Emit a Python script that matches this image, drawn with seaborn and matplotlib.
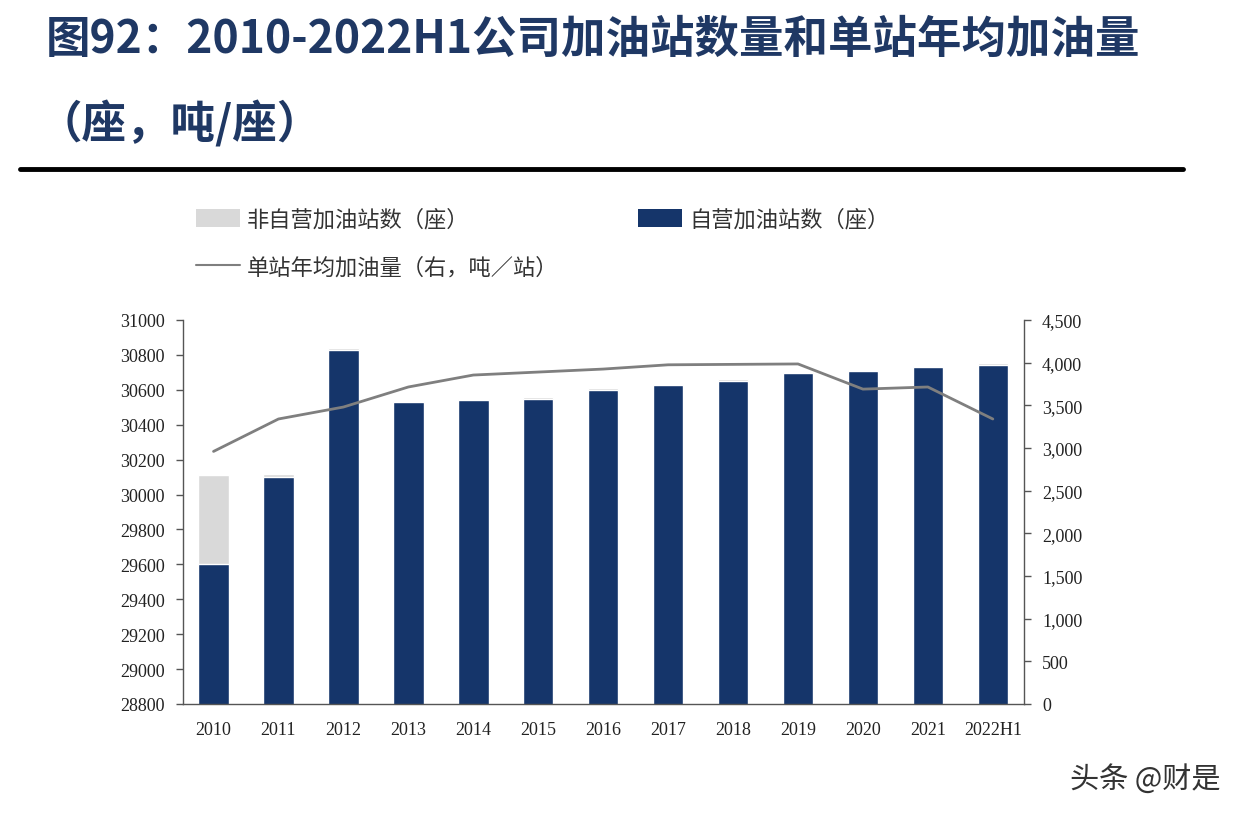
import matplotlib
matplotlib.use("Agg")
import matplotlib.pyplot as plt
import seaborn as sns
import numpy as np
import pandas as pd
from matplotlib.patches import Patch
from matplotlib.lines import Line2D
from matplotlib.ticker import FuncFormatter

years = ["2010", "2011", "2012", "2013", "2014", "2015", "2016", "2017", "2018", "2019", "2020", "2021", "2022H1"]
self_operated = [29600, 30100, 30828, 30528, 30540, 30550, 30600, 30628, 30652, 30694, 30710, 30733, 30745]
non_self = [512, 15, 12, 10, 10, 10, 8, 8, 8, 8, 6, 6, 6]
avg_volume = [2960, 3340, 3480, 3715, 3855, 3890, 3925, 3975, 3980, 3985, 3690, 3715, 3340]

left_ticks = [28800, 29000, 29200, 29400, 29600, 29800, 30000, 30200, 30400, 30600, 30800, 31000]
right_ticks = [0, 500, 1000, 1500, 2000, 2500, 3000, 3500, 4000, 4500]

title_line1 = "图92：2010-2022H1公司加油站数量和单站年均加油量"
title_line2 = "（座，吨/座）"
legend_labels = ["非自营加油站数（座）", "自营加油站数（座）", "单站年均加油量（右，吨／站）"]
watermark = "头条 @财是"

sns.set_theme(style="white")
plt.rcParams['font.family'] = ['Liberation Serif', 'Noto Sans CJK SC', 'DejaVu Sans']

navy = "#15356a"
gray_bar = "#d9d9d9"
line_gray = "#7f7f7f"
axis_col = "#555555"

df = pd.DataFrame({"year": years,
                   "self": self_operated,
                   "total": [a + b for a, b in zip(self_operated, non_self)],
                   "avg": avg_volume})

fig = plt.figure(figsize=(12.44, 8.2), dpi=100)
ax = fig.add_axes([183/1244, 1-705/820, (1024-183)/1244, (705-321)/820])

sns.barplot(data=df, x="year", y="total", color=gray_bar, width=0.47, ax=ax, saturation=1)
sns.barplot(data=df, x="year", y="self", color=navy, width=0.47, ax=ax, saturation=1)
ax.set_ylim(28800, 31000)
ax.set_xlim(-0.47, 12.48)
ax.set_yticks(left_ticks)
ax.set_xlabel("")
ax.set_ylabel("")

ax2 = ax.twinx()
sns.lineplot(x=np.arange(len(years)), y=df["avg"], ax=ax2, color=line_gray, linewidth=2, sort=False)
ax2.set_ylim(0, 4500)
ax2.set_yticks(right_ticks)
ax2.yaxis.set_major_formatter(FuncFormatter(lambda v, p: f"{int(v):,}"))
ax2.set_ylabel("")
ax2.set_xlim(-0.47, 12.48)

for a in (ax, ax2):
    for s in a.spines.values():
        s.set_visible(False)
ax.spines["left"].set_visible(True)
ax.spines["bottom"].set_visible(True)
ax2.spines["right"].set_visible(True)
for a in (ax, ax2):
    for s in ("left", "bottom", "right"):
        a.spines[s].set_color(axis_col)
        a.spines[s].set_linewidth(1.0)
ax.tick_params(axis="y", which="major", direction="out", length=5, width=1, color=axis_col, labelsize=13, labelcolor="#222222", pad=8, left=True)
ax.tick_params(axis="x", length=0, labelsize=13, labelcolor="#222222", pad=12)
ax2.tick_params(axis="y", which="major", direction="out", length=5, width=1, color=axis_col, labelsize=13, labelcolor="#222222", pad=8, right=True)
for lab in ax.get_xticklabels() + ax.get_yticklabels() + ax2.get_yticklabels():
    lab.set_fontfamily(['Liberation Serif'])

# Title
fig.text(46/1244, 1-40/820, title_line1, fontsize=32, fontweight="bold", color="#1f3864",
         family=['Noto Sans CJK SC'], va="center", ha="left")
fig.text(38/1244, 1-125/820, title_line2, fontsize=32, fontweight="bold", color="#1f3864",
         family=['Noto Sans CJK SC'], va="center", ha="left")
fig.add_artist(Line2D([20/1244, 1183/1244], [1-170/820, 1-170/820], color="black", linewidth=3.5))

# Legends
def add_leg(handle, label, x, y):
    lg = fig.legend([handle], [label], loc="center left", bbox_to_anchor=(x, y), frameon=False,
                    handlelength=2.0, handleheight=0.9, handletextpad=0.3, borderaxespad=0, borderpad=0,
                    prop={"family": ['Noto Sans CJK SC'], "size": 16})
    for t in lg.get_texts():
        t.set_color("#333333")
    return lg

add_leg(Patch(facecolor=gray_bar, edgecolor="none"), legend_labels[0], 196/1244, 1-220/820)
add_leg(Patch(facecolor=navy, edgecolor="none"), legend_labels[1], 638/1244, 1-220/820)
add_leg(Line2D([0], [0], color=line_gray, linewidth=1.5), legend_labels[2], 196/1244, 1-268/820)

fig.text(1220/1244, 1-780/820, watermark, fontsize=21, color="#333333",
         family=['Noto Sans CJK SC', 'DejaVu Sans'], va="center", ha="right")

fig.savefig("out.png", dpi=100, facecolor="white")
